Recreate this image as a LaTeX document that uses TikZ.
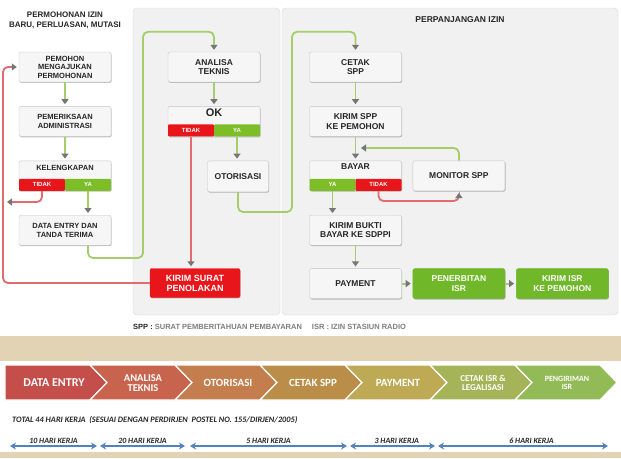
\documentclass[tikz,border=0pt]{standalone}
\usepackage{fontspec}
\setmainfont{Liberation Sans}
\newfontfamily\chevfont{Carlito}
\usetikzlibrary{positioning, arrows.meta, shadows}

\definecolor{panelgray}{RGB}{241,241,241}
\definecolor{panelline}{RGB}{214,214,214}
\definecolor{boxgray}{RGB}{246,246,246}
\definecolor{boxline}{RGB}{198,198,198}
\definecolor{textgray}{RGB}{38,38,38}
\definecolor{legendgray}{RGB}{125,125,125}
\definecolor{alertred}{RGB}{232,22,26}
\definecolor{stripgreen}{RGB}{125,190,40}
\definecolor{okgreen}{RGB}{112,184,42}
\definecolor{linegreen}{RGB}{165,205,105}
\definecolor{linered}{RGB}{226,108,108}
\definecolor{tipgray}{RGB}{118,118,118}
\definecolor{sandbg}{RGB}{226,211,180}
\definecolor{spanblue}{RGB}{80,130,190}
\definecolor{chevA}{RGB}{196,78,74}
\definecolor{chevB}{RGB}{200,100,78}
\definecolor{chevC}{RGB}{196,126,78}
\definecolor{chevD}{RGB}{186,142,72}
\definecolor{chevE}{RGB}{190,170,85}
\definecolor{chevF}{RGB}{165,180,88}
\definecolor{chevG}{RGB}{146,186,86}

\tikzstyle{panel} = [rounded corners=4pt, draw=panelline, fill=panelgray]
\tikzstyle{box} = [rectangle, rounded corners=2pt, minimum width=92pt, minimum height=30pt, inner sep=2pt, text centered, align=center, draw=boxline, fill=boxgray, text=textgray, font=\bfseries\fontsize{7.5}{8.5}\selectfont, drop shadow={shadow xshift=0.6pt, shadow yshift=-0.9pt, opacity=0.25, fill=black}]
\tikzstyle{bigbox} = [box, font=\bfseries\fontsize{8.5}{9.5}\selectfont]
\tikzstyle{redbox} = [box, draw=alertred, fill=alertred, text=white, font=\bfseries\fontsize{9}{10}\selectfont]
\tikzstyle{greenbox} = [box, draw=okgreen, fill=okgreen, text=white, font=\bfseries\fontsize{8.5}{9.5}\selectfont]
\tikzstyle{boxtext} = [inner sep=0pt, anchor=north, text=textgray, font=\bfseries\fontsize{8.5}{9}\selectfont]
\tikzstyle{nostrip} = [rectangle, rounded corners=1pt, minimum width=46pt, minimum height=12pt, inner sep=0pt, fill=alertred, text=white, font=\bfseries\fontsize{6}{6}\selectfont]
\tikzstyle{yastrip} = [nostrip, fill=stripgreen]
\tikzstyle{title} = [text=textgray, align=center, font=\bfseries\fontsize{8}{10}\selectfont]
\tikzstyle{arrow} = [line width=1.8pt, draw=linegreen, rounded corners=5pt, shorten >=2pt, -{Triangle[width=7pt, length=5pt, color=tipgray]}]
\tikzstyle{redarrow} = [arrow, draw=linered]
\tikzstyle{chevtext} = [inner sep=0pt, text=white, align=center, font=\chevfont\bfseries\fontsize{11}{11}\selectfont]
\tikzstyle{span} = [line width=1.3pt, draw=spanblue, {Stealth[width=7pt, length=6pt, color=spanblue]}-{Stealth[width=7pt, length=6pt, color=spanblue]}]
\tikzstyle{days} = [text=black!85, inner sep=2pt, font=\chevfont\bfseries\itshape\fontsize{8}{8}\selectfont]
\newcommand\chevron[2]{\fill [#2, draw=white, line width=1.2pt] (#1,365) -- ++(85,0) -- ++(17,17.5) -- ++(-17,17.5) -- ++(-85,0) -- ++(17,-17.5) -- cycle;}

\begin{document}
\begin{tikzpicture}[x=1pt, y=-1pt]
\useasboundingbox (0,0) rectangle (621,458);

% panels
\draw [panel] (133,8) rectangle (280,315);
\draw [panel] (282,8) rectangle (618,315);
\node [title] at (65,20) {PERMOHONAN IZIN\\BARU, PERLUASAN, MUTASI};
\node [title, font=\bfseries\fontsize{8.5}{10}\selectfont] at (460,20) {PERPANJANGAN IZIN};

% permohonan baru
\node (pemohon) [box] at (65,67) {PEMOHON\\MENGAJUKAN\\PERMOHONAN};
\node (admin) [box, below=24pt of pemohon] {PEMERIKSAAN\\ADMINISTRASI};
\draw [arrow] (pemohon) -- (admin);
\node (kel) [box, below=24pt of admin] {};
\node (kelText) [boxtext, below=4pt of kel.north, font=\bfseries\fontsize{7.5}{8}\selectfont] {KELENGKAPAN};
\node (kelTidak) [nostrip, anchor=south west] at (kel.south west) {TIDAK};
\node (kelYa) [yastrip, anchor=south east] at (kel.south east) {YA};
\draw [arrow] (admin) -- (kel);
\node (entry) [box, below=24pt of kel] {DATA ENTRY DAN\\TANDA TERIMA};
\draw [arrow] (kelYa) -- (kelYa |- entry.north);
\coordinate (tidakEnd) at (5,202);
\draw [redarrow] (kelTidak) |- (tidakEnd);

% analisa
\node (analisa) [bigbox] at (214,67) {ANALISA\\TEKNIS};
\draw [arrow] ([xshift=23pt]entry.south) |- (143,258) |- ([yshift=20pt]analisa.north) -- (analisa);
\node (ok) [box, below=24pt of analisa] {};
\node (okText) [boxtext, below=2pt of ok.north, font=\bfseries\fontsize{11}{11}\selectfont] {OK};
\node (okTidak) [nostrip, anchor=south west] at (ok.south west) {TIDAK};
\node (okYa) [yastrip, anchor=south east] at (ok.south east) {YA};
\draw [arrow] (analisa) -- (ok);
\node (otorisasi) [bigbox, minimum width=61pt, minimum height=31pt, below=24pt of ok, xshift=24pt] {OTORISASI};
\draw [arrow] (okYa) -- (okYa |- otorisasi.north);
\node (penolakan) [redbox, minimum width=90pt, minimum height=29pt] at (195,283) {KIRIM SURAT\\PENOLAKAN};
\draw [redarrow] (okTidak) -- (okTidak |- penolakan.north);
\draw [redarrow] (penolakan) -| (3,67) -- (pemohon);

% perpanjangan
\node (cetak) [bigbox] at (355.5,67) {CETAK\\SPP};
\draw [arrow] (otorisasi) |- (292,212) |- ([yshift=20pt]cetak.north) -- (cetak);
\node (kirimspp) [bigbox, below=24pt of cetak] {KIRIM SPP\\KE PEMOHON};
\draw [arrow] (cetak) -- (kirimspp);
\node (bayar) [box, below=24pt of kirimspp] {};
\node (bayarText) [boxtext, below=3pt of bayar.north] {BAYAR};
\node (bayarYa) [yastrip, anchor=south west] at (bayar.south west) {YA};
\node (bayarTidak) [nostrip, anchor=south east] at (bayar.south east) {TIDAK};
\draw [arrow] (kirimspp) -- (bayar);
\node (monitor) [bigbox, right=11pt of bayar] {MONITOR SPP};
\coordinate (monBack) at (359,148);
\draw [arrow] (monitor) |- (monBack);
\draw [redarrow] (bayarTidak) |- ([yshift=-10pt]monitor.south) -- (monitor);
\node (bukti) [bigbox, below=24pt of bayar] {KIRIM BUKTI\\BAYAR KE SDPPI};
\draw [arrow] (bayarYa) -- (bayarYa |- bukti.north);
\node (payment) [bigbox, below=23pt of bukti] {PAYMENT};
\draw [arrow] (bukti) -- (payment);
\node (terbit) [greenbox, right=11pt of payment] {PENERBITAN\\ISR};
\node (kirimisr) [greenbox, right=11pt of terbit] {KIRIM ISR\\KE PEMOHON};
\draw [arrow] (payment) -- (terbit);
\draw [arrow] (terbit) -- (kirimisr);

\node (legend) [anchor=west, inner sep=0pt, text=legendgray, font=\bfseries\fontsize{7.5}{8}\selectfont] at (133,327) {\textcolor{textgray}{SPP :} SURAT PEMBERITAHUAN PEMBAYARAN\hspace{10pt}ISR : IZIN STASIUN RADIO};

% alur waktu
\fill [sandbg] (0,336) rectangle (621,458);
\fill [white] (0,361) rectangle (621,452);
\fill [chevA, draw=white, line width=1.2pt] (5,365) -- (90,365) -- (107,382.5) -- (90,400) -- (5,400) -- cycle;
\chevron{90}{chevB}
\chevron{175}{chevC}
\chevron{260}{chevD}
\chevron{345}{chevE}
\chevron{430}{chevF}
\chevron{515}{chevG}
\node (c1) [chevtext, font=\chevfont\bfseries\fontsize{12}{12}\selectfont] at (54,383) {DATA ENTRY};
\node (c2) [chevtext, font=\chevfont\bfseries\fontsize{10.5}{10.5}\selectfont] at (143,383) {ANALISA\\TEKNIS};
\node (c3) [chevtext] at (228,383) {OTORISASI};
\node (c4) [chevtext] at (313,383) {CETAK SPP};
\node (c5) [chevtext] at (398,383) {PAYMENT};
\node (c6) [chevtext, font=\chevfont\bfseries\fontsize{9}{9.5}\selectfont] at (483,383) {CETAK ISR \&\\LEGALISASI};
\node (c7) [chevtext, font=\chevfont\bfseries\fontsize{8}{8.5}\selectfont] at (567,383) {PENGIRIMAN\\ISR};

\node (total) [days, anchor=west, font=\chevfont\bfseries\itshape\fontsize{8.3}{8.3}\selectfont] at (10,420) {TOTAL 44 HARI KERJA\ \ (SESUAI DENGAN PERDIRJEN\ \ POSTEL NO. 155/DIRJEN/2005)};
\coordinate (s1a) at (10,446);  \coordinate (s1b) at (97,446);
\coordinate (s2a) at (100,446); \coordinate (s2b) at (185,446);
\coordinate (s3a) at (190,446); \coordinate (s3b) at (347,446);
\coordinate (s4a) at (350,446); \coordinate (s4b) at (435,446);
\coordinate (s5a) at (438,446); \coordinate (s5b) at (608,446);
\draw [span] (s1a) -- node[days, above] {10 HARI KERJA} (s1b);
\draw [span] (s2a) -- node[days, above] {20 HARI KERJA} (s2b);
\draw [span] (s3a) -- node[days, above] {5 HARI KERJA} (s3b);
\draw [span] (s4a) -- node[days, above, pos=0.55] {3 HARI KERJA} (s4b);
\draw [span] (s5a) -- node[days, above, pos=0.55] {6 HARI KERJA} (s5b);

\end{tikzpicture}
\end{document}
